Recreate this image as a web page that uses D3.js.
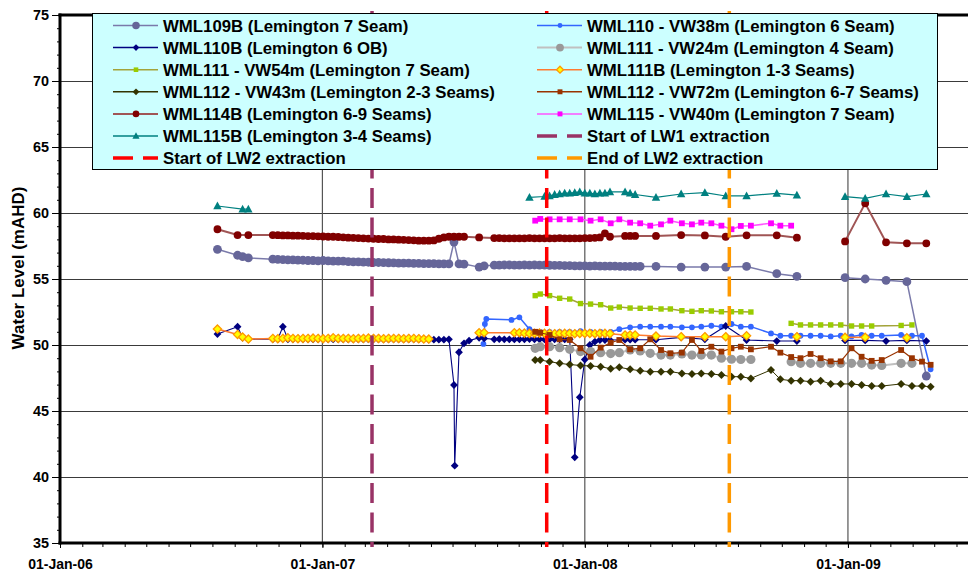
<!DOCTYPE html>
<html><head><meta charset="utf-8">
<script src="https://cdn.jsdelivr.net/npm/d3@7"></script>
<style>
body{margin:0;background:#fff;}
svg{display:block;font-family:"Liberation Sans",Arial,sans-serif;font-weight:bold;}
</style></head><body>
<svg id="chart" width="970" height="576"></svg>
<script>
// ---------------- DATA ----------------
// dates of the standpipe (manual dip) readings
const dipDates = [
"2006-08-08","2006-09-05","2006-09-12","2006-09-20","2006-10-24","2006-10-31","2006-11-07","2006-11-14","2006-11-21","2006-11-28",
"2006-12-05","2006-12-12","2006-12-19","2006-12-26","2007-01-02","2007-01-09","2007-01-16","2007-01-23","2007-01-30","2007-02-06",
"2007-02-13","2007-02-20","2007-02-27","2007-03-06","2007-03-13","2007-03-20","2007-03-27","2007-04-03","2007-04-10","2007-04-17",
"2007-04-24","2007-05-01","2007-05-08","2007-05-15","2007-05-22","2007-05-29","2007-06-05","2007-06-12","2007-06-19","2007-06-26",
"2007-07-03","2007-07-04","2007-07-10","2007-07-17","2007-07-24","2007-07-31","2007-08-07","2007-08-14","2007-08-21","2007-08-28",
"2007-09-04","2007-09-11","2007-09-18","2007-09-25","2007-10-02","2007-10-09","2007-10-16","2007-10-23","2007-10-30","2007-11-06",
"2007-11-13","2007-11-20","2007-11-27","2007-12-04","2007-12-11","2007-12-18","2007-12-25","2008-01-01","2008-01-08","2008-01-15",
"2008-01-22","2008-01-29","2008-02-05","2008-02-12","2008-02-19","2008-02-26","2008-03-04","2008-03-11","2008-03-18","2008-04-09",
"2008-05-14","2008-06-16","2008-07-15","2008-08-13","2008-09-24","2008-10-22","2008-12-28","2009-01-25","2009-02-23","2009-03-24",
"2009-04-20"];

const wml109B = [
57.25,56.8,56.7,56.6,56.5,56.48,56.47,56.45,56.45,56.43,
56.42,56.4,56.4,56.38,56.4,56.37,56.36,56.35,56.35,56.32,
56.3,56.3,56.28,56.27,56.25,56.25,56.24,56.23,56.22,56.2,
56.2,56.2,56.18,56.18,56.17,56.17,56.16,56.15,56.15,56.14,
57.8,null,56.14,56.13,null,null,55.9,56.0,null,56.05,
56.05,56.06,56.06,56.05,56.05,56.06,56.05,56.06,56.05,56.05,
56.04,56.03,56.03,56.02,56.02,56.0,56.0,56.0,55.98,56.0,
55.98,55.98,55.97,55.97,55.96,55.96,55.95,55.95,55.95,55.95,
55.9,55.9,55.9,55.95,55.4,55.2,55.1,55.0,54.9,54.8,
47.65];

const wml110B = [
50.83,51.39,50.55,50.45,50.43,50.43,51.39,50.43,50.43,50.45,
50.43,50.43,50.42,50.43,50.43,50.43,50.42,50.43,50.43,50.42,
50.43,50.43,50.42,50.43,50.43,50.43,50.42,50.42,50.43,50.43,
50.42,50.42,50.43,50.42,50.42,50.4,50.4,50.4,50.4,50.43,
46.97,40.86,49.45,50.13,50.33,null,50.55,50.5,null,50.43,
50.45,50.43,50.43,50.42,50.43,50.43,50.45,50.43,50.43,50.42,
50.43,50.43,50.43,50.42,50.43,41.49,46.04,48.9,50.0,50.25,
50.38,50.38,50.38,null,null,50.4,50.4,50.4,null,50.4,
50.58,50.43,51.44,50.38,50.3,50.3,50.35,50.35,50.3,50.35,
50.3];

const wml111B = [
51.21,50.8,50.6,50.45,50.5,50.48,50.5,50.55,50.5,50.48,
50.5,50.5,50.52,50.5,50.48,50.5,50.55,50.5,50.5,50.5,
50.48,50.5,50.5,50.52,50.5,50.5,50.48,50.5,50.5,50.5,
50.48,50.5,50.5,50.48,50.45,50.45,null,null,null,null,
null,null,null,null,null,null,50.93,50.93,null,null,
null,null,null,50.93,50.93,50.9,50.88,50.88,50.9,50.88,
50.88,50.86,50.88,50.88,50.88,50.86,50.88,50.88,50.88,50.86,
50.88,50.88,50.86,null,null,50.76,50.76,50.76,null,50.68,
50.63,50.63,50.63,50.7,null,50.63,50.58,50.58,null,50.55,
null];

const wml114B = [
58.77,58.33,null,58.33,58.33,58.32,58.3,58.3,58.28,58.28,
58.27,58.25,58.25,58.23,58.22,58.2,58.2,58.18,58.16,58.13,
58.12,58.1,58.08,58.06,58.05,58.03,58.03,58.0,58.0,57.98,
57.97,57.95,57.93,57.9,57.9,57.9,57.92,58.05,58.15,58.2,
58.2,null,58.2,58.2,null,null,58.15,null,null,58.1,
58.1,58.08,58.08,58.08,58.08,58.08,58.1,58.08,58.08,58.08,
58.08,58.08,58.1,58.08,58.08,58.08,58.08,58.1,58.1,58.12,
58.15,58.46,58.2,null,null,58.26,58.26,58.26,null,58.26,
58.33,58.3,58.2,58.31,58.31,58.13,57.85,60.73,57.78,57.7,
57.7];

const wml115B = [
60.53,null,60.3,60.3,null,null,null,null,null,null,
null,null,null,null,null,null,null,null,null,null,
null,null,null,null,null,null,null,null,null,null,
null,null,null,null,null,null,null,null,null,null,
null,null,null,null,null,null,null,null,null,null,
null,null,null,null,null,null,61.19,null,null,61.25,
61.3,61.4,61.45,61.5,61.5,61.55,61.6,61.5,61.5,61.45,
61.5,61.5,61.6,null,null,61.6,61.5,61.4,null,61.19,
61.44,61.54,61.29,61.29,61.49,61.36,61.24,61.11,61.44,61.24,
61.44];

// dates of the vibrating wire piezometer readings
const vwDates = [
"2007-08-13","2007-08-15","2007-08-17","2007-09-21","2007-10-02","2007-10-16","2007-10-24","2007-10-31","2007-11-13","2007-11-27",
"2007-12-11","2007-12-26","2008-01-09","2008-01-23","2008-02-06","2008-02-18","2008-03-04","2008-03-18","2008-04-01","2008-04-16",
"2008-04-29","2008-05-15","2008-05-29","2008-06-11","2008-06-25","2008-07-09","2008-07-23","2008-08-05","2008-08-19","2008-09-16",
"2008-09-29","2008-10-14","2008-10-27","2008-11-10","2008-11-24","2008-12-08","2008-12-22","2009-01-06","2009-01-20","2009-02-03",
"2009-02-17","2009-03-16","2009-03-31","2009-04-14","2009-04-26"];

const vw38 = [
50.08,51.6,51.97,51.9,52.1,51.2,51.0,51.0,51.0,51.0,
51.0,51.05,51.0,51.0,51.0,51.2,51.34,51.39,51.39,51.39,
51.39,51.34,51.34,51.39,51.46,51.39,51.59,51.39,51.39,50.88,
50.7,50.7,50.7,50.7,50.7,50.65,50.7,50.65,50.76,50.7,
50.7,50.76,50.7,50.7,48.16];

const vw24 = [
null,null,null,null,null,null,49.75,49.87,49.87,49.8,
49.67,49.5,49.5,49.42,49.35,49.42,49.62,49.55,49.37,49.24,
49.24,49.32,49.24,49.24,49.24,49.0,48.92,48.9,48.9,null,
null,48.74,48.61,48.61,48.61,48.61,48.61,48.61,48.61,48.48,
48.45,48.61,48.61,null,null];

const vw54 = [
null,null,null,null,null,null,53.74,53.86,53.74,53.54,
53.48,53.14,53.1,53.05,52.8,52.87,52.8,52.78,52.78,52.73,
52.73,52.6,52.55,52.6,52.58,52.52,52.52,52.52,52.5,null,
null,51.64,51.52,51.52,51.52,51.52,51.52,51.44,51.44,51.44,
null,51.48,51.52,null,null];

const vw43 = [
null,null,null,null,null,null,48.86,48.86,48.74,48.61,
48.52,48.45,48.41,48.36,48.2,48.31,48.16,48.05,47.98,47.98,
47.98,47.85,47.8,47.85,47.8,47.73,47.6,47.6,47.47,48.11,
47.4,47.3,47.3,47.22,47.3,47.05,47.05,47.05,46.97,46.89,
46.89,47.05,46.89,46.89,46.84];

const vw72 = [
null,null,null,null,null,null,51.0,50.93,50.76,50.43,
50.38,49.75,49.11,49.8,50.17,50.38,49.67,49.75,50.43,49.62,
49.37,49.42,50.38,49.55,49.87,49.5,49.75,49.87,49.67,49.87,
49.42,49.09,49.0,49.32,49.0,48.76,48.76,49.75,49.11,48.8,
48.86,49.62,49.0,48.74,48.5];

const vw40 = [
null,null,null,null,null,null,59.42,59.55,59.52,59.52,
59.52,59.52,59.42,59.52,59.22,59.52,59.27,59.22,59.04,59.14,
59.42,59.22,59.14,59.27,59.22,59.04,58.77,59.02,59.04,59.22,
59.04,59.04,null,null,null,null,null,null,null,null,
null,null,null,null,null];

// mining events (vertical dashed lines)
const eventNames = ["Start of LW1 extraction","Start of LW2 extraction","End of LW2 extraction"];
const eventDates = ["2007-03-11","2007-11-09","2008-07-20"];
const eventSpan = [34.7, 75.3];

// axis ticks
const yTicks = [35,40,45,50,55,60,65,70,75];
const xTickDates = ["2006-01-01","2007-01-01","2008-01-01","2009-01-01"];
const xTickLabels = ["01-Jan-06","01-Jan-07","01-Jan-08","01-Jan-09"];
const xDomain = ["2006-01-01","2009-06-17"];
const yDomain = [35,75];

// ---------------- STYLES ----------------
const series = [
 {name:"WML109B (Lemington 7 Seam)", dates:dipDates, values:wml109B, line:"#7a7aaa", lw:1.5, m:"circle", s:4.4, fill:"#666699", stroke:"#666699", sw:0},
 {name:"WML110 - VW38m (Lemington 6 Seam)", dates:vwDates, values:vw38, line:"#3366FF", lw:1.5, m:"circle", s:2.9, fill:"#3366FF", stroke:"#3366FF", sw:0},
 {name:"WML110B (Lemington 6 OB)", dates:dipDates, values:wml110B, line:"#000080", lw:1.1, m:"diamond", s:3.9, fill:"#000080", stroke:"#000080", sw:0},
 {name:"WML111 - VW24m (Lemington 4 Seam)", dates:vwDates, values:vw24, line:"#C0C0C0", lw:2, m:"circle", s:4.6, fill:"#999999", stroke:"#999999", sw:0},
 {name:"WML111 - VW54m (Lemington 7 Seam)", dates:vwDates, values:vw54, line:"#A3A33A", lw:1.5, m:"square", s:2.7, fill:"#99CC00", stroke:"#99CC00", sw:0},
 {name:"WML111B (Lemington 1-3 Seams)", dates:dipDates, values:wml111B, line:"#FF7A30", lw:1.5, m:"diamond", s:4.1, fill:"#FFFF00", stroke:"#FF9900", sw:1.3},
 {name:"WML112 - VW43m (Lemington 2-3 Seams)", dates:vwDates, values:vw43, line:"#333300", lw:1, m:"diamond", s:4.0, fill:"#333300", stroke:"#333300", sw:0},
 {name:"WML112 - VW72m (Lemington 6-7 Seams)", dates:vwDates, values:vw72, line:"#993300", lw:1.2, m:"square", s:2.9, fill:"#993300", stroke:"#993300", sw:0},
 {name:"WML114B (Lemington 6-9 Seams)", dates:dipDates, values:wml114B, line:"#A05555", lw:2, m:"circle", s:3.9, fill:"#800000", stroke:"#800000", sw:0},
 {name:"WML115 - VW40m (Lemington 7 Seam)", dates:vwDates, values:vw40, line:"#FF55FF", lw:1.5, m:"square", s:2.9, fill:"#FF00FF", stroke:"#FF00FF", sw:0},
 {name:"WML115B (Lemington 3-4 Seams)", dates:dipDates, values:wml115B, line:"#008080", lw:1.2, m:"triangle", s:4.2, fill:"#008080", stroke:"#008080", sw:0}
];
const eventColors = ["#993366","#FF0000","#FF9900"];

// ---------------- LAYOUT ----------------
const L = 60, R = 968, T = 15, B = 543;
const parse = d3.utcParse("%Y-%m-%d");
const x = d3.scaleUtc().domain(xDomain.map(parse)).range([L, R]);
const y = d3.scaleLinear().domain(yDomain).range([B, T]);
const svg = d3.select("#chart");
const FONT = "'Liberation Sans', Arial, sans-serif";

function markerPath(type, s){
  if(type==="diamond") return `M0,${-s}L${s},0L0,${s}L${-s},0Z`;
  if(type==="square") return `M${-s},${-s}h${2*s}v${2*s}h${-2*s}Z`;
  if(type==="triangle") return `M0,${-s*1.05}L${s},${s*0.8}L${-s},${s*0.8}Z`;
  return d3.symbol(d3.symbolCircle, Math.PI*s*s)();
}

// gridlines
const grid = svg.append("g");
grid.selectAll("line.h").data(yTicks.filter(v=>v>yDomain[0] && v<yDomain[1])).join("line")
  .attr("x1", L).attr("x2", R).attr("y1", d=>y(d)).attr("y2", d=>y(d))
  .attr("stroke", "#3a3a3a").attr("stroke-width", 1).attr("shape-rendering","crispEdges");
grid.selectAll("line.v").data(xTickDates.slice(1).map(parse)).join("line")
  .attr("x1", d=>x(d)).attr("x2", d=>x(d)).attr("y1", T).attr("y2", B)
  .attr("stroke", "#555").attr("stroke-width", 1.2);

// y axis
const yMinorAxis = d3.axisLeft(y).tickValues(d3.range(yDomain[0], yDomain[1]+1, 1)).tickSize(3).tickFormat("");
svg.append("g").attr("transform", `translate(${L},0)`).call(yMinorAxis)
  .call(g=>{g.select(".domain").remove(); g.selectAll("line").attr("stroke","#000");});
const yAxis = d3.axisLeft(y).tickValues(yTicks).tickSize(8).tickPadding(3);
svg.append("g").attr("transform", `translate(${L},0)`).call(yAxis)
  .attr("font-family", FONT).attr("font-size", 14.4).attr("font-weight","bold")
  .call(g=>{g.select(".domain").remove(); g.selectAll("line").attr("stroke","#000"); g.selectAll("text").attr("fill","#000");});

// x axis
const xMinorAxis = d3.axisBottom(x).ticks(d3.utcMonth.every(1)).tickSize(4).tickFormat("");
svg.append("g").attr("transform", `translate(0,${B})`).call(xMinorAxis)
  .call(g=>{g.select(".domain").remove(); g.selectAll("line").attr("stroke","#000");});
const xAxis = d3.axisBottom(x).tickValues(xTickDates.map(parse)).tickSize(5).tickPadding(11)
  .tickFormat((d,i)=>xTickLabels[i]);
svg.append("g").attr("transform", `translate(0,${B})`).call(xAxis)
  .attr("font-family", FONT).attr("font-size", 14).attr("font-weight","bold")
  .call(g=>{g.select(".domain").remove(); g.selectAll("line").attr("stroke","#000"); g.selectAll("text").attr("fill","#000");});

// frame lines
svg.append("line").attr("x1", L).attr("x2", L).attr("y1", T-1.5).attr("y2", B+1.5).attr("stroke","#000").attr("stroke-width",3);
svg.append("line").attr("x1", L-1.5).attr("x2", R).attr("y1", B).attr("y2", B).attr("stroke","#000").attr("stroke-width",3);
svg.append("line").attr("x1", L-1.5).attr("x2", R).attr("y1", T).attr("y2", T).attr("stroke","#000").attr("stroke-width",3);

// y title
svg.append("text").attr("transform", `translate(24,268) rotate(-90)`)
  .attr("text-anchor","middle").attr("font-size",17).attr("font-weight","bold").attr("fill","#000")
  .text("Water Level (mAHD)");

// series
const GAP_DAYS = 50;
const lineGen = d3.line().x(d=>x(d.date)).y(d=>y(d.v));
series.forEach(s=>{
  const pts = s.dates.map((d,i)=>({date:parse(d), v:s.values[i]})).filter(p=>p.v!==null && p.v!==undefined);
  const segs = [];
  let cur = [];
  pts.forEach((p,i)=>{
    if(i>0 && (p.date - pts[i-1].date)/86400000 > GAP_DAYS){ segs.push(cur); cur=[]; }
    cur.push(p);
  });
  if(cur.length) segs.push(cur);
  const g = svg.append("g");
  g.selectAll("path.l").data(segs.filter(sg=>sg.length>1)).join("path")
    .attr("d", lineGen).attr("fill","none").attr("stroke", s.line).attr("stroke-width", s.lw)
    .attr("stroke-linejoin","round");
  g.selectAll("path.m").data(pts).join("path")
    .attr("transform", d=>`translate(${x(d.date)},${y(d.v)})`)
    .attr("d", markerPath(s.m, s.s))
    .attr("fill", s.fill).attr("stroke", s.stroke).attr("stroke-width", s.sw);
});

// event lines
svg.append("g").selectAll("line").data(eventDates).join("line")
  .attr("x1", d=>x(parse(d))).attr("x2", d=>x(parse(d)))
  .attr("y1", y(eventSpan[1])).attr("y2", y(eventSpan[0]))
  .attr("stroke", (d,i)=>eventColors[i]).attr("stroke-width", 3.5)
  .attr("stroke-dasharray", "20,9.5");

// legend
const leg = svg.append("g");
leg.append("rect").attr("x", 92.5).attr("y", 13.5).attr("width", 845).attr("height", 156)
  .attr("fill", "#CCFFFF").attr("stroke", "#000").attr("stroke-width", 1);
const items = series.map(s=>({kind:"s", ...s})).concat(eventNames.map((n,i)=>({kind:"e", name:n, color:eventColors[i]})));
items.forEach((it,k)=>{
  const col = k % 2, row = Math.floor(k/2);
  const x0 = col ? 537 : 113;
  const yy = 25.5 + row*22.1;
  const g = leg.append("g");
  if(it.kind==="s"){
    g.append("line").attr("x1", x0).attr("x2", x0+45).attr("y1", yy).attr("y2", yy)
      .attr("stroke", it.line).attr("stroke-width", Math.max(it.lw,1.5));
    g.append("path").attr("transform", `translate(${x0+23},${yy})`).attr("d", markerPath(it.m, it.s*0.85))
      .attr("fill", it.fill).attr("stroke", it.stroke).attr("stroke-width", it.sw);
  } else {
    g.append("line").attr("x1", x0).attr("x2", x0+45).attr("y1", yy).attr("y2", yy)
      .attr("stroke", it.color).attr("stroke-width", 3.5).attr("stroke-dasharray","20,10");
  }
  g.append("text").attr("x", x0+50).attr("y", yy+6).attr("font-size", 16.8).attr("font-weight","bold")
    .attr("fill","#000").text(it.name);
});
</script></body></html>
